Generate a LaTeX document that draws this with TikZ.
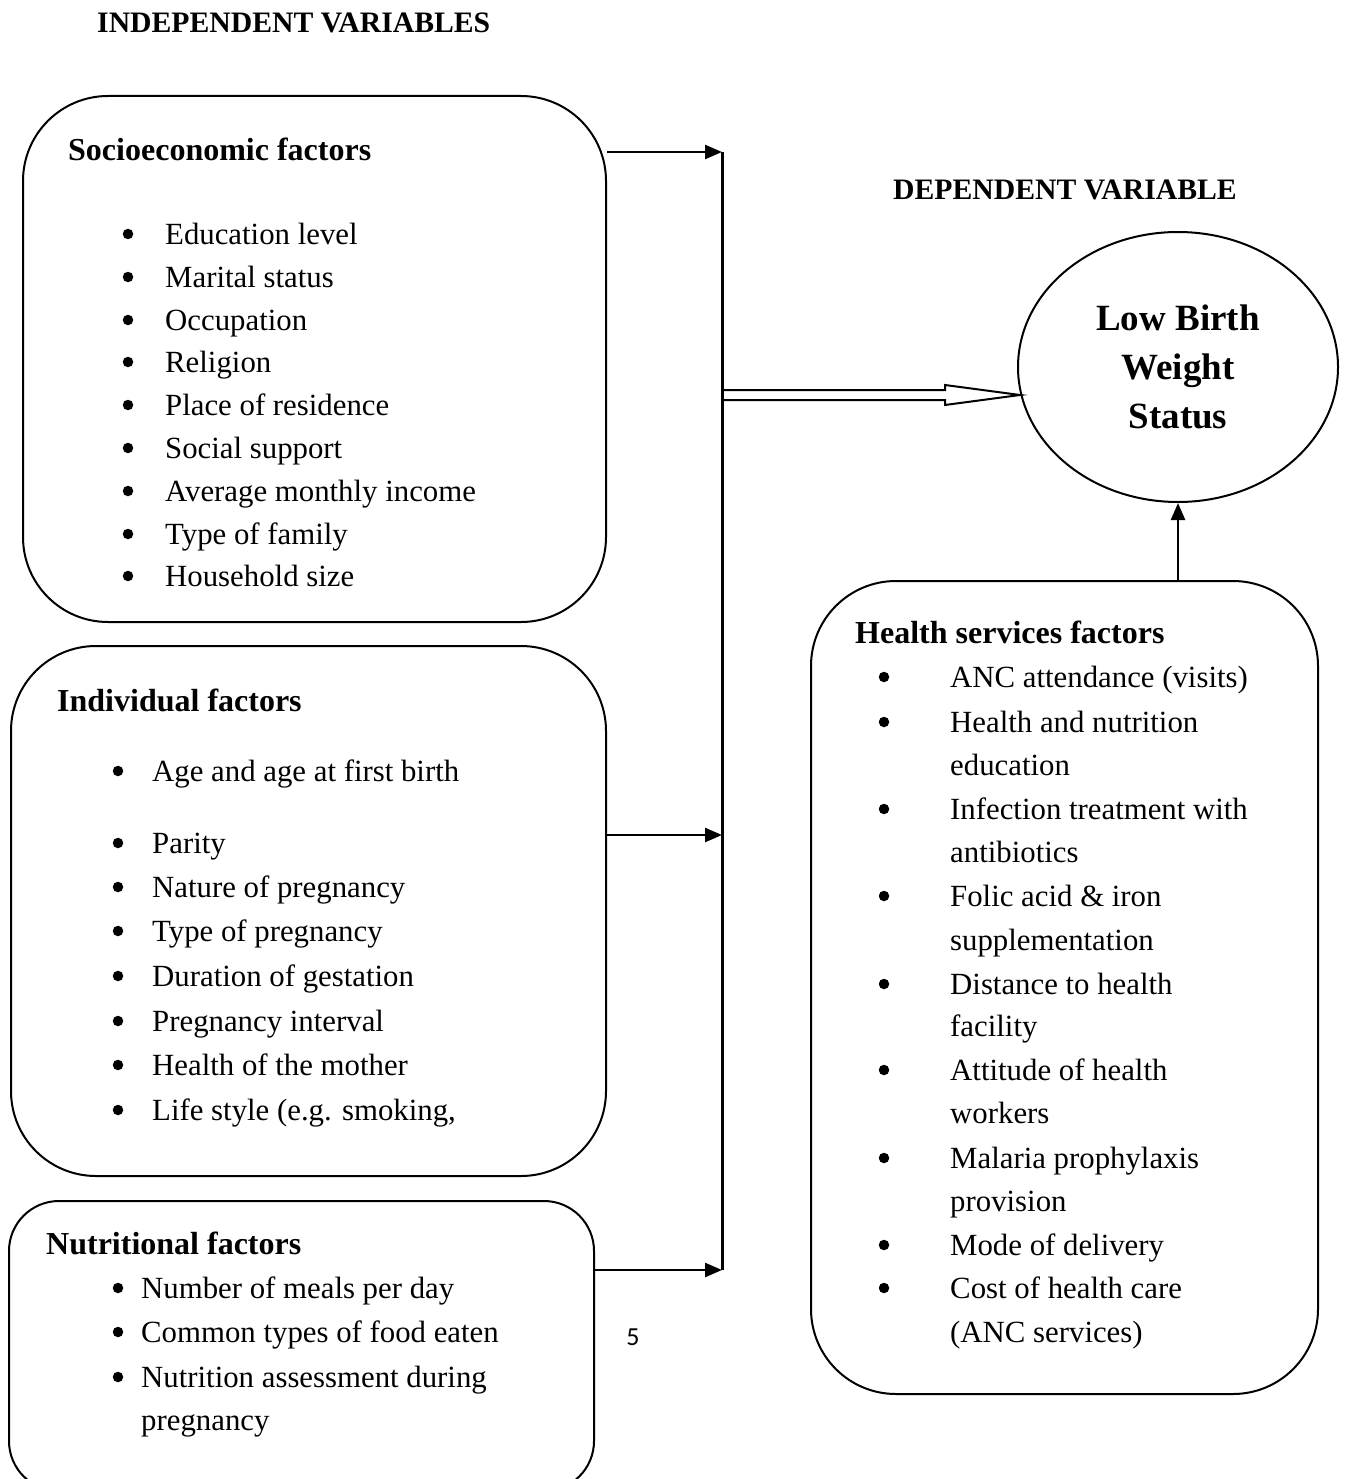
\documentclass[tikz,border=0pt]{standalone}
\usepackage{fontspec}
\setmainfont{Liberation Serif}
\newfontfamily\pagenumfont{Carlito}
\usetikzlibrary{arrows.meta,shapes.geometric}
\begin{document}
\begin{tikzpicture}[x=1pt,y=-1pt,
  box/.style={draw,line width=2pt,rounded corners=85pt,anchor=north west,inner sep=0pt},
  txt/.style={anchor=mid west,inner sep=0pt,yshift=-8pt,font=\fontsize{30.8}{43}\selectfont},
  hd/.style={anchor=mid west,inner sep=0pt,yshift=-8pt,font=\fontsize{32}{43}\selectfont\bfseries},
  ttl/.style={anchor=base west,inner sep=0pt,font=\fontsize{29.7}{34}\selectfont\bfseries},
  bul/.style={circle,fill=black,inner sep=0pt,minimum size=10.5pt},
  feed/.style={line width=2.5pt,-{Triangle[length=17pt,width=14pt]}},
]
\useasboundingbox (0,0) rectangle (1348,1479);
\clip (0,0) rectangle (1348,1479);

% titles
\node[ttl] (indep) at (97,33) {INDEPENDENT VARIABLES};
\node[ttl] (dep) at (893,200) {DEPENDENT VARIABLE};

% boxes
\node[box,minimum width=583pt,minimum height=526pt] (socio) at (22,95) {};
\node[box,minimum width=595pt,minimum height=530pt] (indiv) at (10,645) {};
\node[box,rounded corners=50pt,minimum width=585pt,minimum height=290pt] (nutri) at (8,1200) {};
\node[box,minimum width=507pt,minimum height=813pt] (health) at (810,580) {};

% outcome
\node[draw,ellipse,line width=2pt,minimum width=320pt,minimum height=270pt,inner sep=0pt,
      align=center,font=\fontsize{37}{49}\selectfont\bfseries] (lbw) at (1178,367) {Low Birth\\Weight\\Status};

% headings
\node[hd] (socioh) at (68,150) {Socioeconomic factors};
\node[hd] (indivh) at (57,701) {Individual factors};
\node[hd] (nutrih) at (46,1244) {Nutritional factors};
\node[hd] (healthh) at (855,633) {Health services factors};

% socioeconomic items
\foreach \y/\t [count=\i] in {234/Education level, 277/Marital status, 320/Occupation,
  362/Religion, 405/Place of residence, 448/Social support, 491/Average monthly income,
  534/Type of family, 576/Household size} {
  \node[bul] (sb\i) at (128,\y) {};
  \node[txt] (st\i) at (165,\y) {\t};
}

% individual items
\foreach \y/\t [count=\i] in {771/Age and age at first birth, 843/Parity, 887/Nature of pregnancy,
  931/Type of pregnancy, 976/Duration of gestation, 1021/Pregnancy interval,
  1065/Health of the mother, {1110/Life style (e.g. smoking,}} {
  \node[bul] (ib\i) at (118,\y) {};
  \node[txt] (it\i) at (152,\y) {\t};
}

% nutritional items
\foreach \y/\t [count=\i] in {1288/Number of meals per day, 1332/Common types of food eaten,
  1377/Nutrition assessment during} {
  \node[bul] (nb\i) at (118,\y) {};
  \node[txt] (nt\i) at (141,\y) {\t};
}
\node[txt] (nt4) at (141,1420) {pregnancy};

% health services items
\foreach \y/\t [count=\i] in {677/ANC attendance (visits), 722/Health and nutrition, 765/education,
  809/Infection treatment with, 852/antibiotics, 896/Folic acid \& iron, 940/supplementation,
  984/Distance to health, 1026/facility, 1070/Attitude of health, 1113/workers,
  1158/Malaria prophylaxis, 1201/provision, 1245/Mode of delivery, 1288/Cost of health care,
  1332/(ANC services)} {
  \node[txt] (ht\i) at (950,\y) {\t};
}
\foreach \y [count=\i] in {677,722,809,896,984,1070,1158,1245,1288} {
  \node[bul] (hb\i) at (884,\y) {};
}

% page number
\node[inner sep=0pt,font=\pagenumfont\fontsize{26}{30}\selectfont] (pg) at (633,1337) {5};

% connectors
\coordinate (bt) at (722,152);
\coordinate (bm) at (722,835);
\coordinate (bb) at (722,1270);
\coordinate (dm) at (722,395);
\coordinate (dt) at (1020,395);
\draw[line width=3pt] (bt) -- (bb);
\draw[feed] (socio.east |- bt) -- (bt);
\draw[feed] (indiv.east |- bm) -- (bm);
\draw[feed] (nutri.east |- bb) -- (bb);
\draw[feed] (lbw.south |- health.north) -- (lbw.south);
\draw[line width=2pt] (dm) ++(0,-5) -- ++(223,0) -- ++(0,-5) -- (dt) -- ++(-75,10) -- ++(0,-5) -- ++(-223,0);
\end{tikzpicture}
\end{document}
